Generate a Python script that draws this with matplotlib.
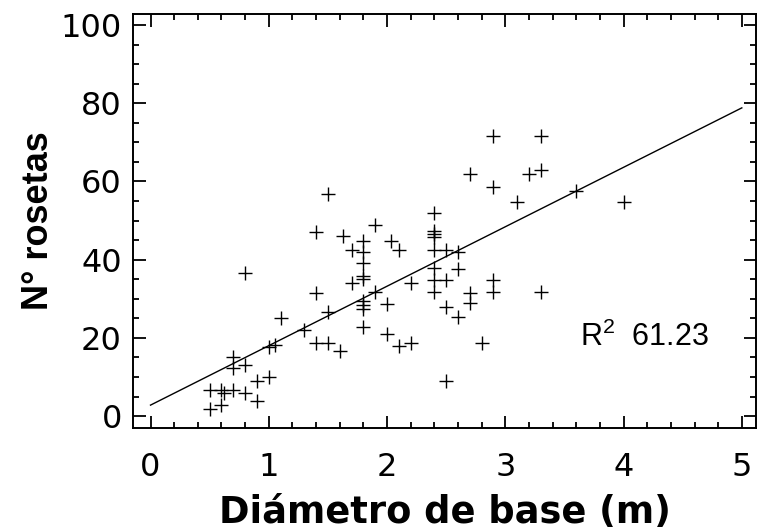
import matplotlib
matplotlib.use("Agg")
import matplotlib.pyplot as plt
from matplotlib.ticker import MultipleLocator

plt.rcParams['font.family'] = ['Liberation Sans', 'DejaVu Sans']
plt.rcParams['mathtext.fontset'] = 'custom'
plt.rcParams['mathtext.rm'] = 'Liberation Sans'
plt.rcParams['mathtext.it'] = 'Liberation Sans'

# Data
diametro = [0.8, 1.1, 1.3, 1.0, 1.05, 0.7, 0.7, 0.8, 0.9, 1.0,
            0.5, 0.6, 0.62, 0.7, 0.8, 0.9, 0.5, 0.6,
            1.5, 2.4, 1.9, 1.4, 2.4, 2.4, 2.4, 1.63, 1.8, 2.03, 1.7, 1.8,
            2.1, 2.4, 2.5, 2.6, 1.8, 2.4, 2.6, 1.8, 1.8, 1.7, 2.4, 2.5,
            2.2, 1.4, 1.9, 2.4, 2.7, 1.8, 1.8, 1.8, 2.0, 2.7, 1.5, 2.5,
            2.6, 1.8, 2.0, 1.4, 1.5, 1.6, 2.1, 2.2, 2.5, 2.8,
            2.9, 3.3, 2.7, 3.2, 3.3, 2.9, 3.1, 3.6, 4.0, 2.9, 2.9, 3.3]
rosetas = [36.6, 25.0, 22.0, 17.6, 18.2, 15.2, 12.2, 13.0, 9.0, 10.0,
           6.6, 6.6, 5.8, 6.6, 6.0, 3.8, 1.7, 2.8,
           56.8, 51.8, 48.8, 47.0, 47.3, 46.5, 45.8, 46.0, 44.8, 44.8, 42.5, 42.0,
           42.5, 42.5, 42.5, 42.0, 39.1, 37.8, 37.6, 35.8, 35.0, 33.9, 34.8, 34.8,
           33.9, 31.5, 31.8, 31.8, 31.5, 29.5, 28.5, 27.5, 28.6, 28.8, 26.7, 27.8,
           25.4, 22.8, 21.0, 18.8, 18.8, 16.7, 18.0, 18.8, 9.0, 18.8,
           71.7, 71.7, 61.9, 61.9, 62.9, 58.5, 54.7, 57.5, 54.7, 34.8, 31.6, 31.6]

reg_intercept = 2.8
reg_slope = 15.2
reg_range = [0, 5]
r2_value = 61.23

x_ticks = [0, 1, 2, 3, 4, 5]
y_ticks = [0, 20, 40, 60, 80, 100]

fig = plt.figure(figsize=(7.57, 5.31), dpi=100)
ax = fig.add_axes([133/757, 103/531, 623/757, 414/531])

ax.plot(diametro, rosetas, linestyle='none', marker='+', markersize=10,
        markeredgewidth=1.0, color='black')
line_y = [reg_intercept + reg_slope * v for v in reg_range]
ax.plot(reg_range, line_y, color='black', linewidth=1.0)

ax.set_xlim(-0.148, 5.12)
ax.set_ylim(-3.05, 102.8)
ax.set_xticks(x_ticks)
ax.set_yticks(y_ticks)
ax.xaxis.set_minor_locator(MultipleLocator(0.2))
ax.yaxis.set_minor_locator(MultipleLocator(5))
ax.tick_params(which='both', direction='in', top=True, right=True,
               width=1.3, colors='black')
ax.tick_params(which='major', length=9, pad=17)
ax.tick_params(which='minor', length=4.5)
ax.tick_params(axis='y', which='major', pad=8)
for lab in ax.get_xticklabels() + ax.get_yticklabels():
    lab.set_fontfamily('DejaVu Sans')
    lab.set_fontsize(23)
for s in ax.spines.values():
    s.set_linewidth(1.4)

ax.set_xlabel('Diámetro de base (m)', fontsize=26.5, fontweight='bold',
              family='DejaVu Sans', labelpad=8)
ax.set_ylabel('N° rosetas', fontsize=26, fontweight='bold', labelpad=3)

ax.text(3.63, 18.0, r'$\mathrm{R}^{2}$' + '  ' + f'{r2_value:.2f}', fontsize=22,
        ha='left', va='baseline')

fig.savefig('out.png', dpi=100)
